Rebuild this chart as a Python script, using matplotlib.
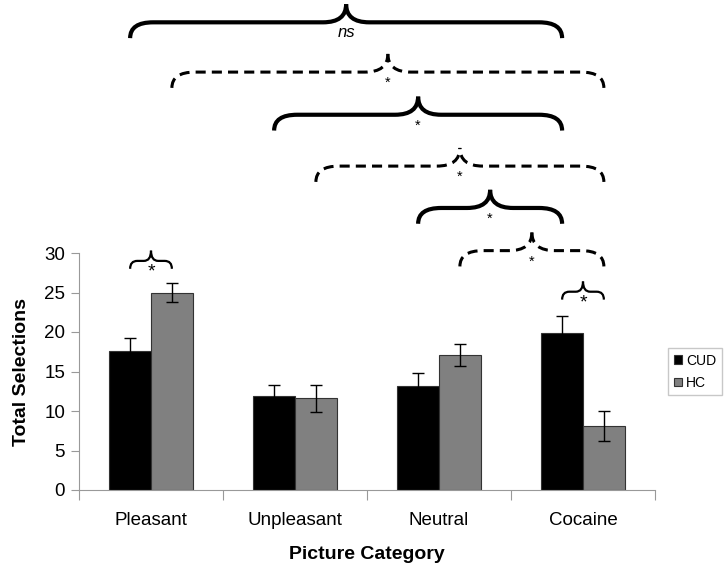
import numpy as np
import matplotlib.pyplot as plt
from matplotlib.path import Path
from matplotlib.patches import PathPatch

plt.rcParams['font.family'] = ['Liberation Sans', 'DejaVu Sans']

# Data
categories = ['Pleasant', 'Unpleasant', 'Neutral', 'Cocaine']
cud = [17.6, 11.9, 13.2, 19.9]
cud_err = [1.7, 1.4, 1.6, 2.1]
hc = [25.0, 11.6, 17.1, 8.1]
hc_err = [1.2, 1.75, 1.35, 1.85]

# comparisons: (category, group) -> (category, group), brace level, style, label
# group 0 = CUD, 1 = HC
comparisons = [
    ((0, 0), (3, 0), 59.2, 'solid', 'ns'),
    ((0, 1), (3, 1), 52.9, 'dashed', '*'),
    ((1, 0), (3, 0), 47.5, 'solid', '*'),
    ((1, 1), (3, 1), 41.0, 'dashed', '*'),
    ((2, 0), (3, 0), 35.7, 'solid', '*'),
    ((2, 1), (3, 1), 30.3, 'dashed', '*'),
]
# within-category comparisons (CUD vs HC)
pair_tests = [(0, 29.0, '*'), (3, 25.1, '*')]

BAR_W = 0.29
GRAY = '#999999'

fig = plt.figure(figsize=(7.24, 5.71), dpi=100)
ax = fig.add_axes([79 / 724, 81 / 571, 576 / 724, 490 / 571])

x = np.arange(len(categories))
ax.bar(x - BAR_W / 2, cud, BAR_W, color='black', edgecolor='#333333', linewidth=0.8, label='CUD')
ax.bar(x + BAR_W / 2, hc, BAR_W, color='#808080', edgecolor='#333333', linewidth=0.8, label='HC')
ax.errorbar(x - BAR_W / 2, cud, yerr=cud_err, fmt='none', ecolor='black', elinewidth=1, capsize=4)
ax.errorbar(x + BAR_W / 2, hc, yerr=hc_err, fmt='none', ecolor='black', elinewidth=1, capsize=4)

ax.set_xlim(-0.5, 3.5)
ax.set_ylim(0, 490 / 7.9)


def bar_x(cat, grp):
    return cat - BAR_W / 2 + grp * BAR_W


def draw_brace(x0, x1, yh, rise, drop, rx, style, lw):
    # each half is drawn from its outer end toward the tip, so dashes start at the ends
    xc = (x0 + x1) / 2
    yb = yh - drop
    yt = yh + rise
    codes = [Path.MOVETO, Path.CURVE3, Path.CURVE3, Path.LINETO, Path.CURVE3, Path.CURVE3]
    ls = '-' if style == 'solid' else (0, (3.3, 2.0))
    for xe, sgn in [(x0, 1), (x1, -1)]:
        verts = [(xe, yb), (xe, yh), (xe + sgn * rx, yh), (xc - sgn * rx, yh),
                 (xc, yh), (xc, yt)]
        ax.add_patch(PathPatch(Path(verts, codes), facecolor='none', edgecolor='black',
                               linewidth=lw, linestyle=ls, capstyle='butt', clip_on=False))
    return xc


for (c0, g0), (c1, g1), level, style, label in comparisons:
    lw = 3.0 if style == 'solid' else 2.2
    xc = draw_brace(bar_x(c0, g0), bar_x(c1, g1), level, 2.3, 2.0, 0.16, style, lw)
    if label == 'ns':
        ax.text(xc, level - 1.3, label, ha='center', va='center', fontsize=12,
                style='italic')
    else:
        ax.text(xc, level - 0.5, label, ha='center', va='top', fontsize=10.5)

for cat, level, label in pair_tests:
    xc = draw_brace(bar_x(cat, 0), bar_x(cat, 1), level, 1.3, 1.0, 0.05, 'solid', 1.6)
    ax.text(xc, level - 0.3, label, ha='center', va='top', fontsize=14)

# axes styling
for s in ['top', 'right']:
    ax.spines[s].set_visible(False)
ax.spines['left'].set_bounds(0, 30)
ax.spines['left'].set_color(GRAY)
ax.spines['bottom'].set_color(GRAY)
ax.set_yticks(np.arange(0, 31, 5))
ax.tick_params(axis='y', colors=GRAY, labelcolor='black', length=6, labelsize=13.5, pad=4)

ax.set_xticks(np.arange(-0.5, 4, 1))
ax.set_xticklabels([])
ax.set_xticks(x, minor=True)
ax.set_xticklabels(categories, minor=True)
ax.tick_params(axis='x', which='major', colors=GRAY, length=7)
ax.tick_params(axis='x', which='minor', length=0, labelsize=13.5, pad=16)

ax.set_xlabel('Picture Category', fontsize=14, fontweight='bold', labelpad=12)
ax.set_ylabel('Total Selections', fontsize=14, fontweight='bold')
ax.yaxis.set_label_coords((30 - 79) / 576, 0.5 * 30 / (490 / 7.9))

leg = fig.legend(loc='upper left', bbox_to_anchor=(668 / 724, 1 - 348 / 571),
                 fontsize=10, handlelength=0.6, handleheight=0.6, handletextpad=0.3,
                 borderpad=0.4, labelspacing=0.6, fancybox=False, framealpha=1,
                 borderaxespad=0)
leg.get_frame().set_edgecolor('#c8c8c8')
leg.get_frame().set_linewidth(1)

fig.savefig('out.png', dpi=100)
